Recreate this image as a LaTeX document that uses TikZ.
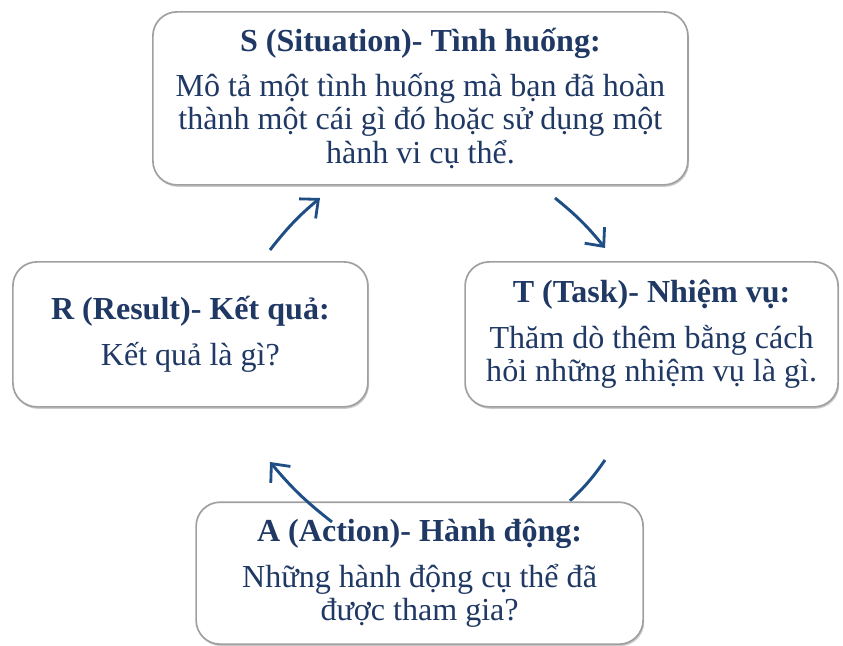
\documentclass[tikz,border=0pt]{standalone}
\usepackage{fontspec}
\setmainfont{Liberation Serif}
\usepackage{tikz}
\usetikzlibrary{arrows.meta,positioning,shadows}
\definecolor{navy}{HTML}{1F3864}
\definecolor{arrowblue}{HTML}{1F4E85}
\definecolor{boxline}{HTML}{A0A0A0}

\begin{document}
\begin{tikzpicture}[
    stage/.style={draw=boxline, line width=1.2pt, rounded corners=0.6cm, fill=white, align=center, text=navy,
        font=\fontsize{22.8}{24}\selectfont,
        drop shadow={shadow xshift=0.8pt, shadow yshift=-1.4pt, opacity=0.4}},
    cycle/.style={-{Straight Barb[length=3.6mm, width=6.4mm, line width=2pt]}, line width=2.1pt, color=arrowblue, bend left=6},
    cycleline/.style={line width=2.1pt, color=arrowblue, bend left=6}
]
    \useasboundingbox (0,0) rectangle (21.075,-16.15);

    % connectors that run behind the boxes
    \coordinate (ta-start) at (15.125,-11.5);
    \coordinate (ta-end) at (14.25,-12.52);
    \draw[cycleline] (ta-start) to (ta-end);

    \node[stage, minimum width=13.375cm, minimum height=4.325cm] (situation) at (10.51,-2.46)
        {\textbf{S (Situation)- Tình huống:}\\[0.28cm]
         Mô tả một tình huống mà bạn đã hoàn\\
         thành một cái gì đó hoặc sử dụng một\\
         hành vi cụ thể.};
    \node[stage, minimum width=9.325cm, minimum height=3.625cm] (task) at (16.29,-8.36)
        {\textbf{T (Task)- Nhiệm vụ:}\\[0.3cm]
         Thăm dò thêm bằng cách\\
         hỏi những nhiệm vụ là gì.};
    \node[stage, minimum width=8.875cm, minimum height=3.625cm] (result) at (4.76,-8.36)
        {\textbf{R (Result)- Kết quả:}\\[0.3cm]
         Kết quả là gì?};
    \node[stage, minimum width=11.175cm, minimum height=3.55cm] (action) at (10.49,-14.33)
        {\textbf{A (Action)- Hành động:}\\[0.3cm]
         Những hành động cụ thể đã\\
         được tham gia?};

    % free ends of the cycle arrows
    \coordinate (rs-start) at (6.75,-6.25);
    \coordinate (rs-end) at (8.0,-4.95);
    \coordinate (st-start) at (13.875,-4.95);
    \coordinate (st-end) at (15.125,-6.2);
    \coordinate (ar-start) at (8.3,-13.05);
    \coordinate (ar-end) at (6.75,-11.55);

    \draw[cycle] (rs-start) to (rs-end);
    \draw[cycle] (st-start) to (st-end);
    \draw[cycle] (ar-start) to (ar-end);
\end{tikzpicture}
\end{document}
